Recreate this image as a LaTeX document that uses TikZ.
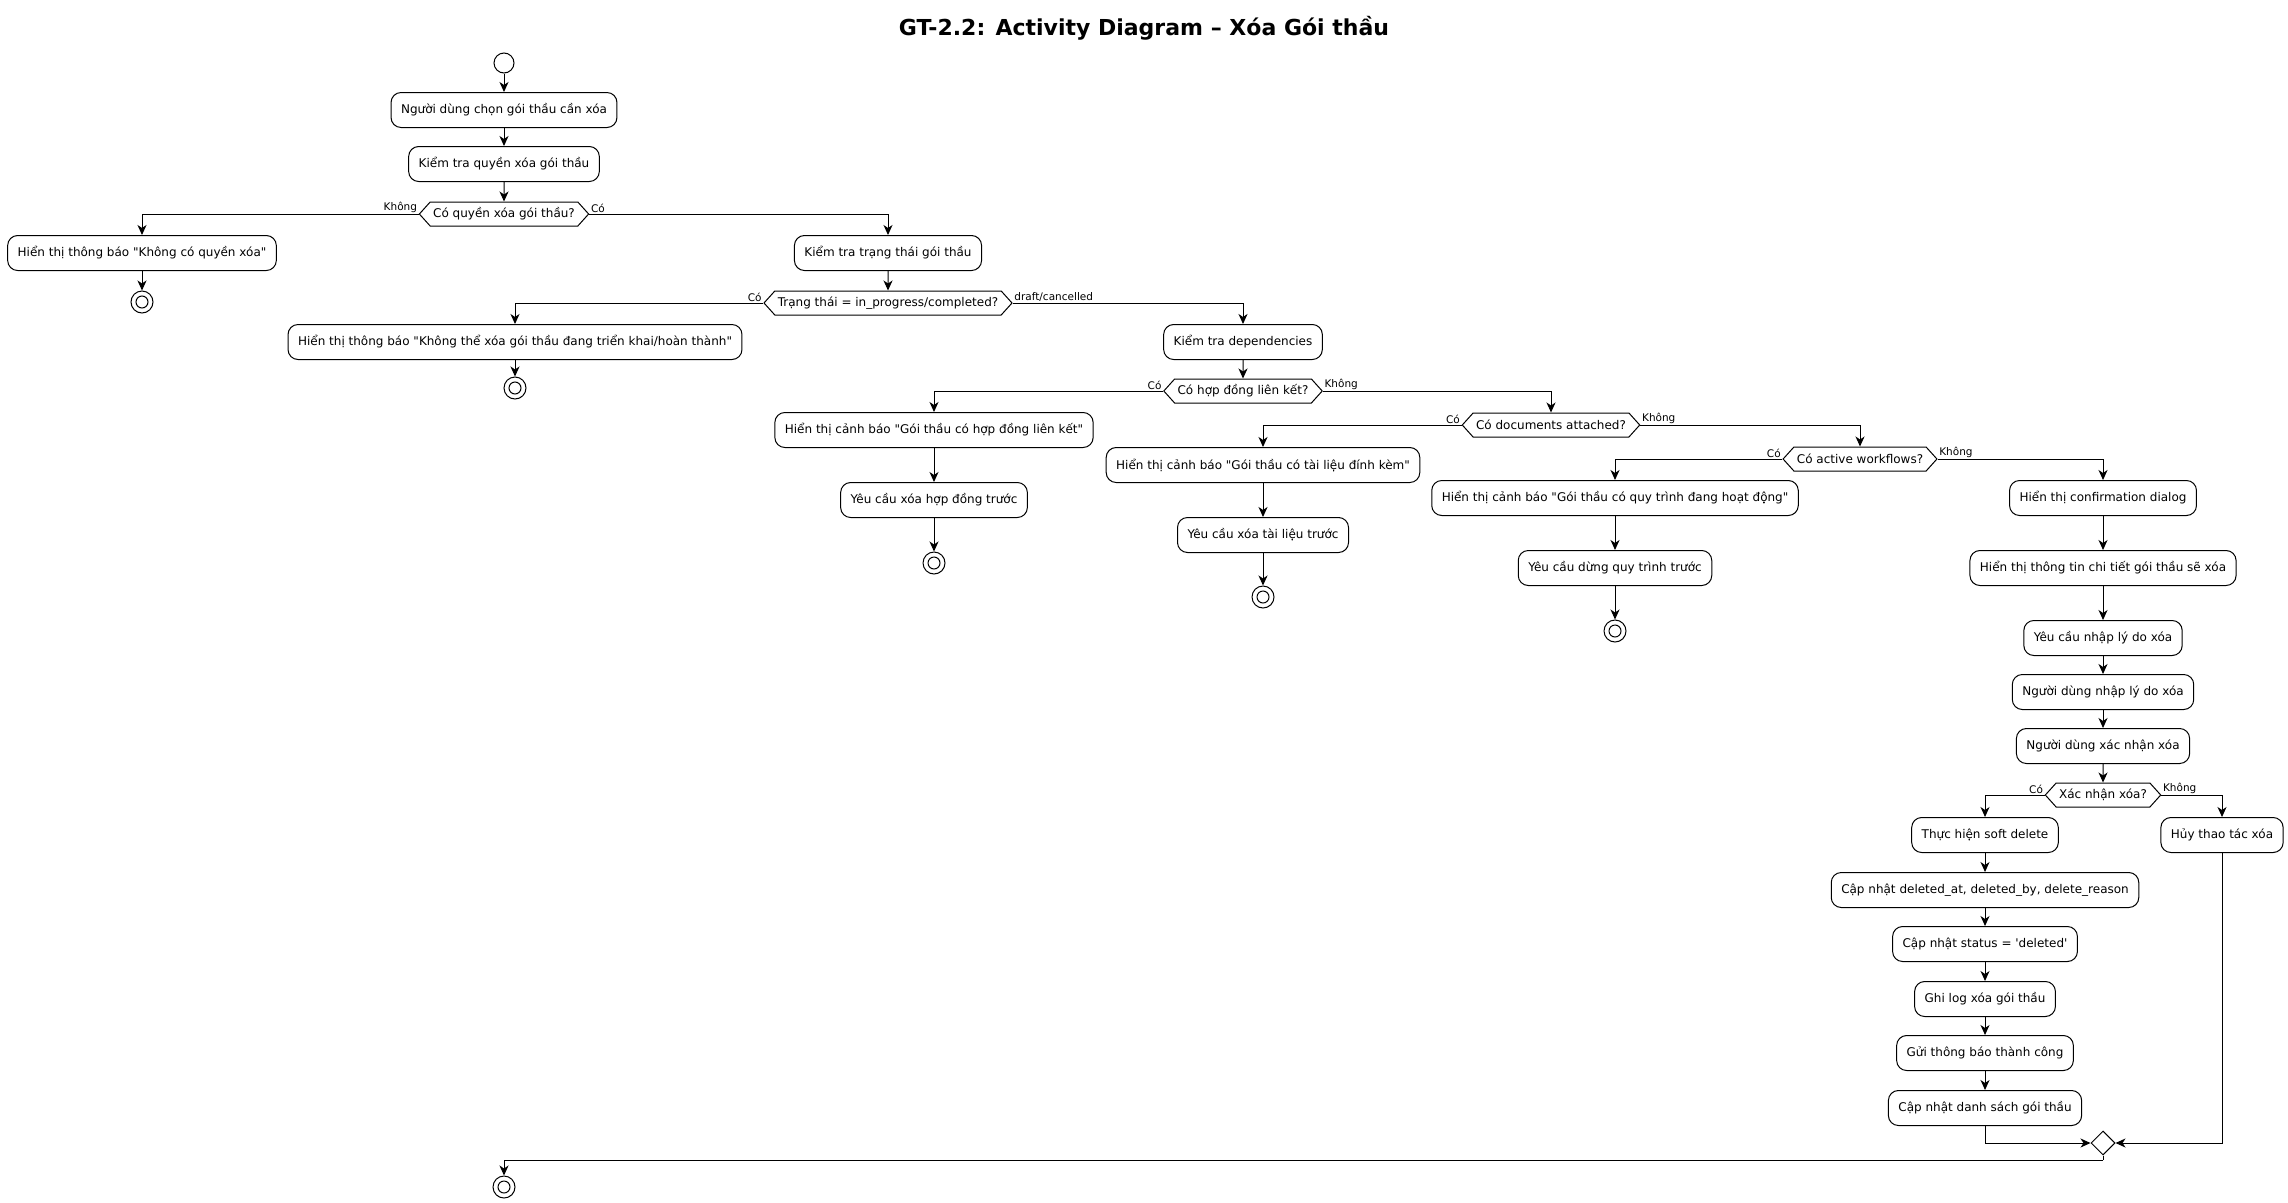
\documentclass[tikz,border=0pt]{standalone}
\usepackage{fontspec}
\newfontfamily\dv{DejaVu Sans}
\usetikzlibrary{shapes.symbols,shapes.geometric,arrows.meta}
\begin{document}
\begin{tikzpicture}[x=1pt,y=-1pt,
  every node/.style={font=\dv\fontsize{12}{14}\selectfont},
  act/.style={draw, line width=1pt, rounded corners=10pt, minimum height=35pt, inner xsep=10pt, inner ysep=2pt, fill=white},
  dec/.style={draw, line width=1pt, signal, signal to=east and west, signal pointer angle=96, minimum height=24pt, inner xsep=3pt, inner ysep=1pt},
  lbl/.style={font=\dv\fontsize{10.5}{12}\selectfont, inner sep=1.5pt},
  startnode/.style={draw, circle, line width=1pt, minimum size=20pt, inner sep=0pt},
  endnode/.style={draw, circle, line width=1pt, minimum size=22pt, inner sep=0pt,
     path picture={\draw[line width=1pt] (path picture bounding box.center) circle (6pt);}},
  merge/.style={draw, diamond, line width=1pt, minimum width=24pt, minimum height=24pt, inner sep=0pt},
  arr/.style={line width=1pt, -{Stealth[length=10pt,width=9pt,inset=3pt]}},
  ln/.style={line width=1pt}
]
\useasboundingbox (0,0) rectangle (2288,1202);
\node[font=\dv\bfseries\fontsize{22}{26}\selectfont] (title) at (1144,28) {GT-2.2: Activity Diagram – Xóa Gói thầu};

\node[startnode] (start) at (504,63) {};
\node[act] (b1) at (504,110) {Người dùng chọn gói thầu cần xóa};
\node[act] (b2) at (504,164) {Kiểm tra quyền xóa gói thầu};
\node[dec] (d1) at (504,214) {Có quyền xóa gói thầu?};
\node[act] (b3) at (142,253) {Hiển thị thông báo "Không có quyền xóa"};
\node[endnode] (e1) at (142,302) {};
\node[act] (b4) at (888,253) {Kiểm tra trạng thái gói thầu};
\node[dec] (d2) at (888,303) {Trạng thái = in\_progress/completed?};
\node[act] (b5) at (515,342) {Hiển thị thông báo "Không thể xóa gói thầu đang triển khai/hoàn thành"};
\node[endnode] (e2) at (515,388) {};
\node[act] (b6) at (1243,342) {Kiểm tra dependencies};
\node[dec] (d3) at (1243,391) {Có hợp đồng liên kết?};
\node[act] (b7) at (934,430) {Hiển thị cảnh báo "Gói thầu có hợp đồng liên kết"};
\node[act] (b8) at (934,500) {Yêu cầu xóa hợp đồng trước};
\node[endnode] (e3) at (934,563) {};
\node[dec] (d4) at (1551,425) {Có documents attached?};
\node[act] (b9) at (1263,465) {Hiển thị cảnh báo "Gói thầu có tài liệu đính kèm"};
\node[act] (b10) at (1263,535) {Yêu cầu xóa tài liệu trước};
\node[endnode] (e4) at (1263,597) {};
\node[dec] (d5) at (1860,459) {Có active workflows?};
\node[act] (b11) at (1615,498) {Hiển thị cảnh báo "Gói thầu có quy trình đang hoạt động"};
\node[act] (b12) at (1615,568) {Yêu cầu dừng quy trình trước};
\node[endnode] (e5) at (1615,631) {};
\node[act] (b13) at (2103,498) {Hiển thị confirmation dialog};
\node[act] (b14) at (2103,568) {Hiển thị thông tin chi tiết gói thầu sẽ xóa};
\node[act] (b15) at (2103,638) {Yêu cầu nhập lý do xóa};
\node[act] (b16) at (2103,692) {Người dùng nhập lý do xóa};
\node[act] (b17) at (2103,746) {Người dùng xác nhận xóa};
\node[dec] (d6) at (2103,795) {Xác nhận xóa?};
\node[act] (b18) at (1985,835) {Thực hiện soft delete};
\node[act] (b19) at (1985,890) {Cập nhật deleted\_at, deleted\_by, delete\_reason};
\node[act] (b20) at (1985,944) {Cập nhật status = 'deleted'};
\node[act] (b21) at (1985,999) {Ghi log xóa gói thầu};
\node[act] (b22) at (1985,1053) {Gửi thông báo thành công};
\node[act] (b23) at (1985,1108) {Cập nhật danh sách gói thầu};
\node[act] (b24) at (2222,835) {Hủy thao tác xóa};
\node[merge] (m) at (2103,1143) {};
\coordinate (mj) at (2103,1160);
\node[endnode] (fin) at (504,1187) {};

% labels
\node[lbl, anchor=south east] (l1a) at (d1.west) {Không};
\node[lbl, anchor=south west] (l1b) at (d1.east) {Có};
\node[lbl, anchor=south east] (l2a) at (d2.west) {Có};
\node[lbl, anchor=south west] (l2b) at (d2.east) {draft/cancelled};
\node[lbl, anchor=south east] (l3a) at (d3.west) {Có};
\node[lbl, anchor=south west] (l3b) at (d3.east) {Không};
\node[lbl, anchor=south east] (l4a) at (d4.west) {Có};
\node[lbl, anchor=south west] (l4b) at (d4.east) {Không};
\node[lbl, anchor=south east] (l5a) at (d5.west) {Có};
\node[lbl, anchor=south west] (l5b) at (d5.east) {Không};
\node[lbl, anchor=south east] (l6a) at (d6.west) {Có};
\node[lbl, anchor=south west] (l6b) at (d6.east) {Không};

% connectors
\draw[arr] (start) -- (b1);
\draw[arr] (b1) -- (b2);
\draw[arr] (b2) -- (d1);
\draw[arr] (d1.west) -| (b3.north);
\draw[arr] (b3) -- (e1);
\draw[arr] (d1.east) -| (b4.north);
\draw[arr] (b4) -- (d2);
\draw[arr] (d2.west) -| (b5.north);
\draw[arr] (b5) -- (e2);
\draw[arr] (d2.east) -| (b6.north);
\draw[arr] (b6) -- (d3);
\draw[arr] (d3.west) -| (b7.north);
\draw[arr] (b7) -- (b8);
\draw[arr] (b8) -- (e3);
\draw[arr] (d3.east) -| (d4.north);
\draw[arr] (d4.west) -| (b9.north);
\draw[arr] (b9) -- (b10);
\draw[arr] (b10) -- (e4);
\draw[arr] (d4.east) -| (d5.north);
\draw[arr] (d5.west) -| (b11.north);
\draw[arr] (b11) -- (b12);
\draw[arr] (b12) -- (e5);
\draw[arr] (d5.east) -| (b13.north);
\draw[arr] (b13) -- (b14);
\draw[arr] (b14) -- (b15);
\draw[arr] (b15) -- (b16);
\draw[arr] (b16) -- (b17);
\draw[arr] (b17) -- (d6);
\draw[arr] (d6.west) -| (b18.north);
\draw[arr] (b18) -- (b19);
\draw[arr] (b19) -- (b20);
\draw[arr] (b20) -- (b21);
\draw[arr] (b21) -- (b22);
\draw[arr] (b22) -- (b23);
\draw[arr] (d6.east) -| (b24.north);
\draw[arr] (b23.south) |- (m.west);
\draw[arr] (b24.south) |- (m.east);
\draw[ln] (m.south) -- (mj);
\draw[arr] (mj) -| (fin.north);
\end{tikzpicture}
\end{document}
